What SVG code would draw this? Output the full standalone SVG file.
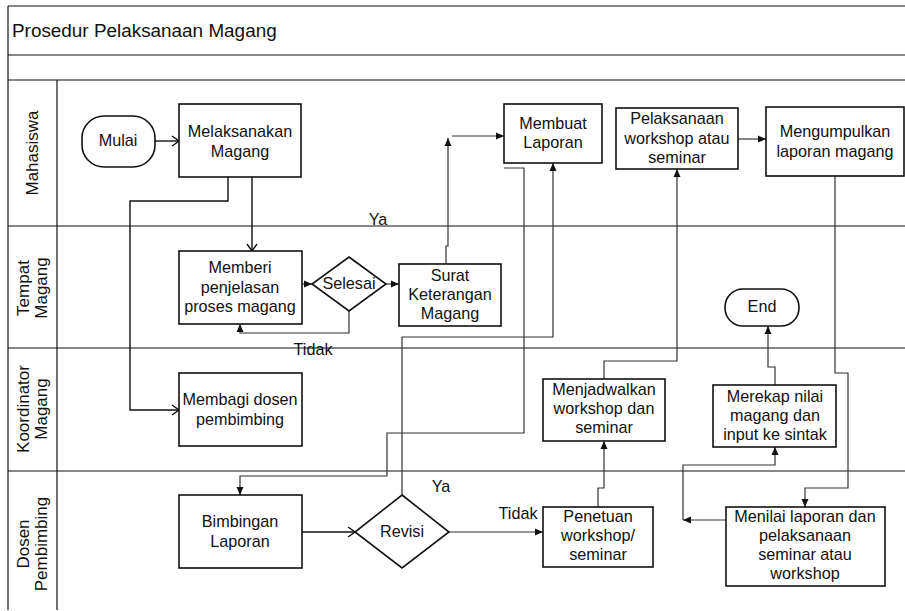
<svg xmlns="http://www.w3.org/2000/svg" width="905" height="611" viewBox="0 0 905 611">
<style>
text{font-family:"Liberation Sans",Arial,sans-serif;font-size:16.2px;fill:#111;text-anchor:middle}
.title{font-size:18.9px;text-anchor:start}
.lane{font-size:17px}
.lbl{font-size:16.2px}
.box{fill:#fff;stroke:#111;stroke-width:1.6}
.grid{stroke:#111;stroke-width:1.2;fill:none}
.cf{fill:none;stroke:#333;stroke-width:1.2;marker-end:url(#fa)}
.co{fill:none;stroke:#111;stroke-width:1.4;marker-end:url(#oa)}
</style>
<defs>
<marker id="fa" markerUnits="userSpaceOnUse" markerWidth="10" markerHeight="10" viewBox="0 0 10 10" refX="9" refY="5" orient="auto">
<path d="M1,1.5 L9,5 L1,8.5 Z" fill="#111"/>
</marker>
<marker id="oa" markerUnits="userSpaceOnUse" markerWidth="10" markerHeight="12" viewBox="0 0 10 12" refX="9" refY="6" orient="auto">
<path d="M2,1 L9,6 L2,11" fill="none" stroke="#111" stroke-width="1.4"/>
</marker>
</defs>

<g id="frame">
<line class="grid" x1="8" y1="6" x2="905" y2="6"/>
<line class="grid" x1="8" y1="55" x2="905" y2="55"/>
<line class="grid" x1="8" y1="80" x2="905" y2="80"/>
<line class="grid" x1="8" y1="226" x2="905" y2="226"/>
<line class="grid" x1="8" y1="348" x2="905" y2="348"/>
<line class="grid" x1="8" y1="471" x2="905" y2="471"/>
<line class="grid" x1="8" y1="6" x2="8" y2="610"/>
<line class="grid" x1="57" y1="80" x2="57" y2="610"/>
<text class="title" x="12" y="37">Prosedur Pelaksanaan Magang</text>
</g>

<g id="lanes">
<text class="lane" transform="translate(38,153) rotate(-90)">Mahasiswa</text>
<text class="lane" transform="translate(29,288) rotate(-90)">Tempat</text>
<text class="lane" transform="translate(47,288) rotate(-90)">Magang</text>
<text class="lane" transform="translate(29,409) rotate(-90)">Koordinator</text>
<text class="lane" transform="translate(47,409) rotate(-90)">Magang</text>
<text class="lane" transform="translate(29,544) rotate(-90)">Dosen</text>
<text class="lane" transform="translate(47,544) rotate(-90)">Pembimbing</text>
</g>

<g id="connectors">
<path class="co" d="M155,141 H179"/>
<path class="co" d="M252,177 V251"/>
<path class="co" d="M228,177 V201 H130 V410 H179"/>
<path class="cf" d="M302,284 H312"/>
<path class="cf" d="M386,284 H399"/>
<path class="cf" d="M349,311 V333 H240 V324"/>
<path class="cf" d="M446,264 V246 H448 V138"/>
<path class="cf" d="M452,136 H504"/>
<path class="cf" d="M504,168 H524 V433 H387 V476 H240 V495"/>
<path class="cf" d="M402,495 V337 H553 V163"/>
<path class="co" d="M302,532 H355"/>
<path class="cf" d="M449,532 H543"/>
<path class="cf" d="M598,507 V488 H604 V441"/>
<path class="cf" d="M604,379 V361 H677 V169"/>
<path class="cf" d="M738,139 H766"/>
<path class="cf" d="M835,176 V373 H848 V488 H805 V507"/>
<path class="cf" d="M726,520 H683"/>
<path class="cf" d="M683,520 V465 H775 V447"/>
<path class="cf" d="M775,385 V367 H768 V326"/>
<text class="lbl" x="378" y="225">Ya</text>
<text class="lbl" x="313" y="355">Tidak</text>
<text class="lbl" x="441" y="492">Ya</text>
<text class="lbl" x="518" y="519">Tidak</text>
</g>

<g id="mulai">
<rect class="box" x="82" y="116" width="73" height="51" rx="22" ry="22"/>
<text x="118" y="146">Mulai</text>
</g>
<g id="melaksanakan">
<rect class="box" x="179" y="104" width="122" height="73"/>
<text x="240" y="137">Melaksanakan</text>
<text x="240" y="157">Magang</text>
</g>
<g id="memberi">
<rect class="box" x="179" y="251" width="123" height="73"/>
<text x="240" y="273">Memberi</text>
<text x="240" y="293">penjelasan</text>
<text x="240" y="312">proses magang</text>
</g>
<g id="selesai">
<polygon class="box" points="349,257 386,284 349,311 312,284"/>
<text x="349" y="289">Selesai</text>
</g>
<g id="surat">
<rect class="box" x="399" y="264" width="102" height="62"/>
<text x="450" y="281">Surat</text>
<text x="450" y="300">Keterangan</text>
<text x="450" y="319">Magang</text>
</g>
<g id="membuat">
<rect class="box" x="504" y="104" width="98" height="59"/>
<text x="553" y="129">Membuat</text>
<text x="553" y="148">Laporan</text>
</g>
<g id="pelaksanaan">
<rect class="box" x="616" y="108" width="122" height="61"/>
<text x="677" y="124">Pelaksanaan</text>
<text x="677" y="144">workshop atau</text>
<text x="677" y="163">seminar</text>
</g>
<g id="mengumpulkan">
<rect class="box" x="766" y="107" width="138" height="69"/>
<text x="835" y="137">Mengumpulkan</text>
<text x="835" y="157">laporan magang</text>
</g>
<g id="membagi">
<rect class="box" x="179" y="373" width="123" height="73"/>
<text x="240" y="405">Membagi dosen</text>
<text x="240" y="425">pembimbing</text>
</g>
<g id="menjadwalkan">
<rect class="box" x="543" y="379" width="122" height="62"/>
<text x="604" y="395">Menjadwalkan</text>
<text x="604" y="414">workshop dan</text>
<text x="604" y="433">seminar</text>
</g>
<g id="end">
<rect class="box" x="725" y="289" width="74" height="37" rx="18" ry="18"/>
<text x="762" y="312">End</text>
</g>
<g id="merekap">
<rect class="box" x="713" y="385" width="123" height="62"/>
<text x="775" y="402">Merekap nilai</text>
<text x="775" y="421">magang dan</text>
<text x="775" y="440">input ke sintak</text>
</g>
<g id="bimbingan">
<rect class="box" x="179" y="495" width="123" height="73"/>
<text x="240" y="527">Bimbingan</text>
<text x="240" y="547">Laporan</text>
</g>
<g id="revisi">
<polygon class="box" points="402,495 449,532 402,568 355,532"/>
<text x="402" y="537">Revisi</text>
</g>
<g id="penetuan">
<rect class="box" x="543" y="507" width="110" height="60"/>
<text x="598" y="522">Penetuan</text>
<text x="598" y="541">workshop/</text>
<text x="598" y="560">seminar</text>
</g>
<g id="menilai">
<rect class="box" x="726" y="507" width="159" height="79"/>
<text x="805" y="522">Menilai laporan dan</text>
<text x="805" y="541">pelaksanaan</text>
<text x="805" y="560">seminar atau</text>
<text x="805" y="579">workshop</text>
</g>
</svg>
